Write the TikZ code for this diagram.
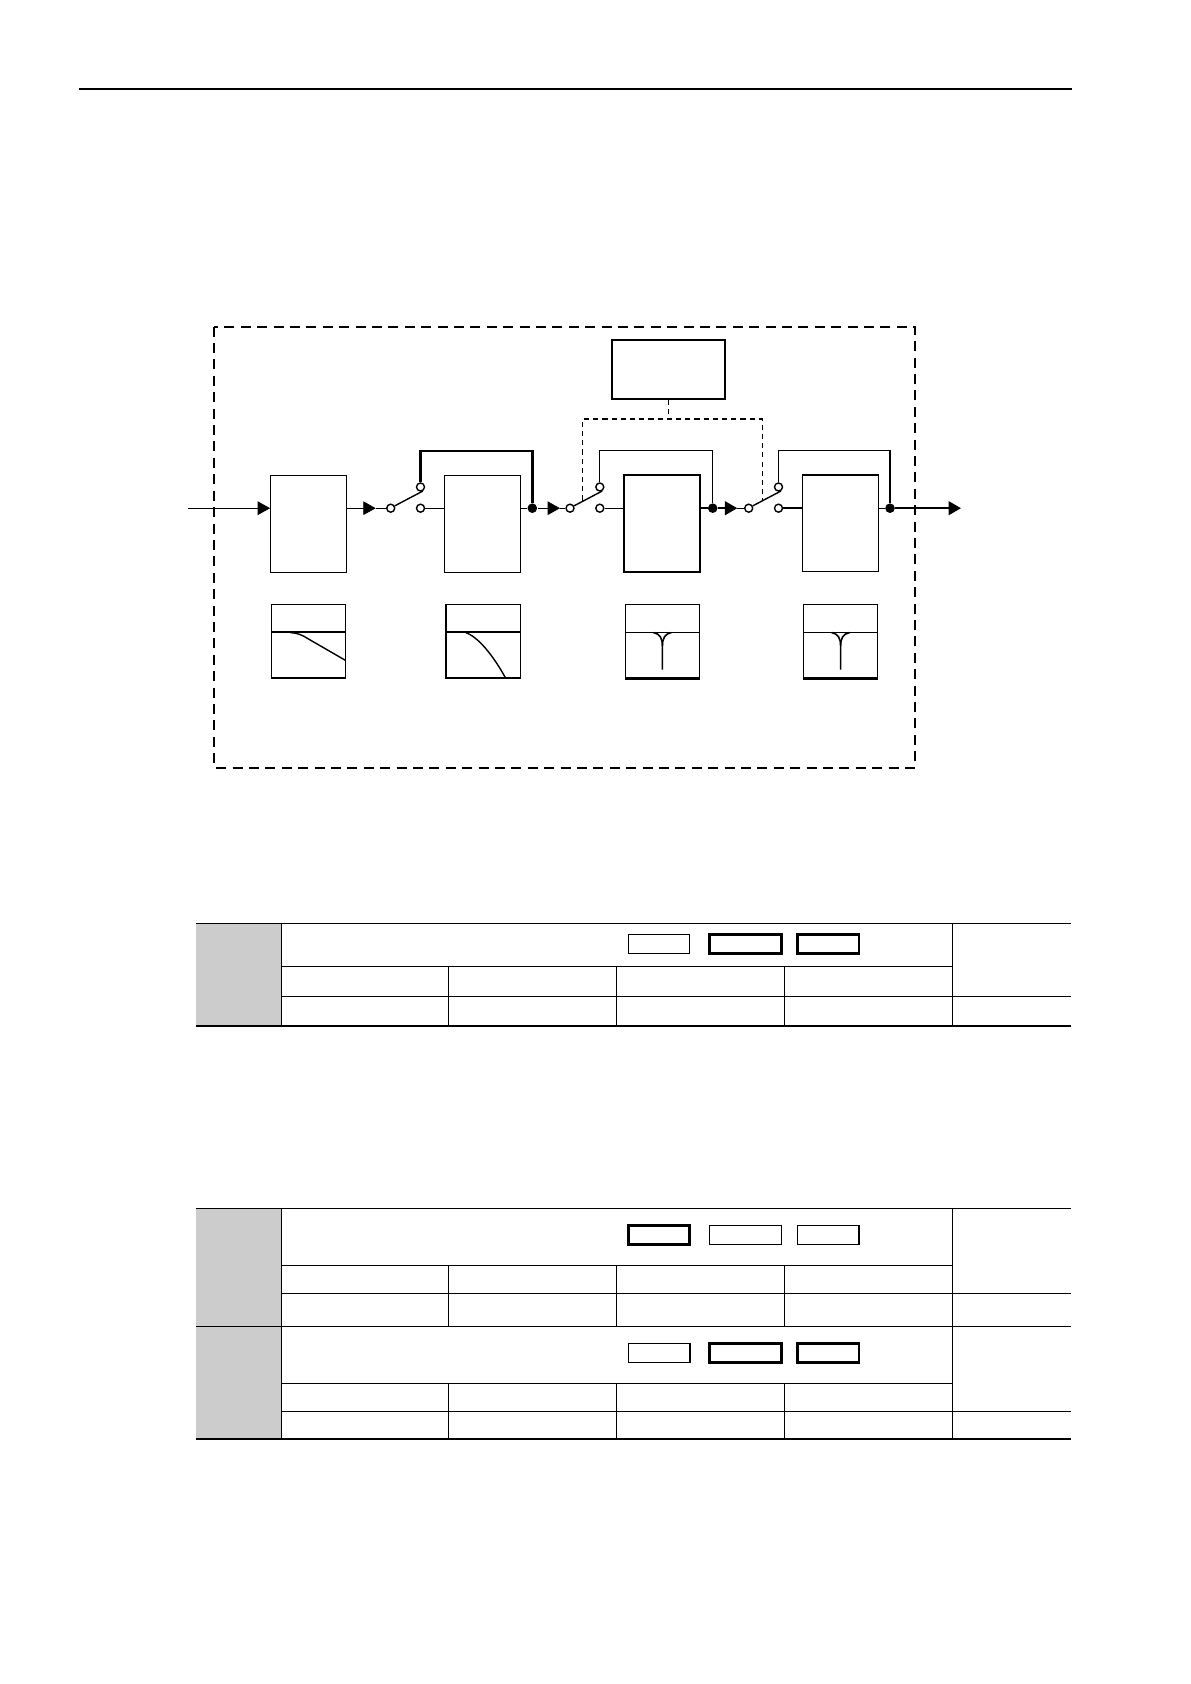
\documentclass[tikz,border=0pt]{standalone}
\usepackage{amsmath}
\usepackage{tikz}
\usetikzlibrary{shapes.geometric}
\usetikzlibrary{calc}
\usetikzlibrary{arrows.meta}

\begin{document}
\begin{tikzpicture}[x=0.5pt,y=-0.5pt,
    blk/.style={draw,line width=0.6pt,inner sep=0pt,minimum width=38pt,minimum height=48.4pt},
    icon/.style={draw,line width=0.8pt,inner sep=0pt,minimum width=37.1pt,minimum height=36.8pt},
    term/.style={circle,draw,fill=white,inner sep=0pt,minimum size=4pt,line width=0.7pt},
    jdot/.style={circle,fill,inner sep=0pt,minimum size=4.8pt},
    flow/.style={-{Triangle[length=6.2pt,width=6.8pt]}},
    ctl/.style={dash pattern=on 2.6pt off 2pt,line width=0.6pt},
    hvy/.style={line width=1.2pt}]
        \useasboundingbox (0,0) rectangle (1190,1684);
        \draw[line width=0.9pt] (79.3,88.7) -- (1071.5,88.7);

        % filter stages
        \draw[line width=1pt,dash pattern=on 5pt off 3.2pt] (214.3,326.7) rectangle (915,767.6);
        \node[blk] (f1) at (308.7,524) {};
        \node[blk] (f2) at (482.3,523.8) {};
        \node[blk,hvy] (f3) at (662,523.4) {};
        \node[blk] (f4) at (840.3,523.4) {};
        \node[draw,line width=1pt,inner sep=0pt,minimum width=56.5pt,minimum height=29.4pt] (ctrl) at (668.8,369.7) {};

        \coordinate (in) at (188.3,508.2);
        \coordinate (a2) at (375.7,508.2);
        \coordinate (a3) at (560,508.2);
        \coordinate (a4) at (737.3,508.2);
        \coordinate (out) at (961,508.2);
        \coordinate (b1) at (532.3,451);
        \coordinate (b2) at (712.7,450.3);
        \coordinate (b3) at (890,450.3);
        \coordinate (cj) at (668.8,419);
        \coordinate (c1) at (582.7,500.5);
        \coordinate (c2) at (762.3,500);

        \node[jdot] (d1) at (532.3,508.2) {};
        \node[jdot] (d2) at (712.7,508.2) {};
        \node[jdot] (d3) at (890,508.2) {};

        \foreach \i/\x in {1/390.7,2/570,3/748.7}{
            \node[term] (s\i-l) at (\x,508.2) {};
            \node[term] (s\i-u) at ({\x+29.8},487) {};
            \node[term] (s\i-r) at ({\x+29.8},508.2) {};
            \draw[line width=0.7pt] (s\i-l.30) -- (s\i-u.-60);
        }

        \draw[flow] (in) -- (f1.west |- in);
        \draw[flow] (f1.east |- s1-l) -- (a2);
        \draw (a2) -- (s1-l);
        \draw (s1-r) -- (f2.west |- s1-r);
        \draw (f2.east |- d1) -- (d1);
        \draw[flow] (d1) -- (a3);
        \draw (a3) -- (s2-l);
        \draw (s2-r) -- (f3.west |- s2-r);
        \draw[hvy] (f3.east |- d2) -- (d2);
        \draw[hvy,flow] (d2) -- (a4);
        \draw (a4) -- (s3-l);
        \draw[hvy] (s3-r) -- (f4.west |- s3-r);
        \draw (f4.east |- d3) -- (d3);
        \draw[hvy,flow] (d3) -- (out);

        \draw[hvy] (s1-u) |- (b1) -- (d1);
        \draw (s2-u) |- (b2) -- (d2);
        \draw (s3-u) |- (b3);
        \draw[hvy] (b3) -- (d3);

        \draw[ctl] (ctrl.south) -- (cj);
        \draw[ctl] (c1) |- (cj) -| (c2);

        % response curves
        \foreach \i/\x in {1/308.5,2/483.3,3/662.4,4/840.4}{
            \node[icon] (g\i) at (\x,641.4) {};
        }
        \foreach \i in {1,2}{
            \draw[line width=1pt] ($(g\i.north west)!0.38!(g\i.south west)$) -- ($(g\i.north east)!0.38!(g\i.south east)$);
        }
        \foreach \i in {3,4}{
            \draw[line width=0.6pt] ($(g\i.north west)!0.38!(g\i.south west)$) -- ($(g\i.north east)!0.38!(g\i.south east)$);
            \draw[hvy] (g\i.south west) -- (g\i.south east);
        }
        \draw[line width=0.7pt] (290.5,632.7) .. controls (298,633) and (302,635) .. (308.5,639) -- (345.7,660.5);
        \draw[line width=0.7pt] (466,632.7) .. controls (478,637) and (493,655) .. (505.7,678.3);
        \foreach \cx in {662.4,840.6}{
            \draw[line width=0.8pt] ({\cx-9},632.5) .. controls ({\cx-2.5},634) and (\cx,638) .. (\cx,646) -- (\cx,669.5);
            \draw[line width=0.8pt] ({\cx+9},632.5) .. controls ({\cx+2.5},634) and (\cx,638) .. (\cx,646);
        }

        % parameter tables
        \foreach \t/\ra/\rb/\bt in {923.3/966.3/996.3/1026.3,1208.3/1265.3/1293.3/1326.3,1326.3/1383.3/1411.3/1439.3}{
            \fill[black!20] (196,\t) rectangle (281.3,\bt);
            \draw[line width=0.65pt] (196,\t) -- (1071,\t);
            \draw[line width=0.65pt] (281.3,\t) -- (281.3,\bt);
            \draw[line width=0.6pt] (281.3,\ra) -- (952.3,\ra);
            \draw[line width=0.6pt] (281.3,\rb) -- (1071,\rb);
            \foreach \c in {448.3,616.3,784.3}
                \draw[line width=0.6pt] (\c,\ra) -- (\c,\bt);
            \draw[line width=0.6pt] (952.3,\t) -- (952.3,\bt);
        }
        \draw[line width=1pt] (196,1026.3) -- (1071,1026.3);
        \draw[line width=1pt] (196,1439.3) -- (1071,1439.3);
        \foreach \y/\wa/\wb/\wc in {934.3/0.6/1.3/1.3,1225.3/1.3/0.7/0.8,1343.3/0.8/1.3/1.3}{
            \draw[line width=\wa*1pt] (628.3,\y) rectangle (689.7,{\y+19.3});
            \draw[line width=\wb*1pt] (709.7,\y) rectangle (781.3,{\y+19.3});
            \draw[line width=\wc*1pt] (797.3,\y) rectangle (859,{\y+19.3});
        }
\end{tikzpicture}
\end{document}
